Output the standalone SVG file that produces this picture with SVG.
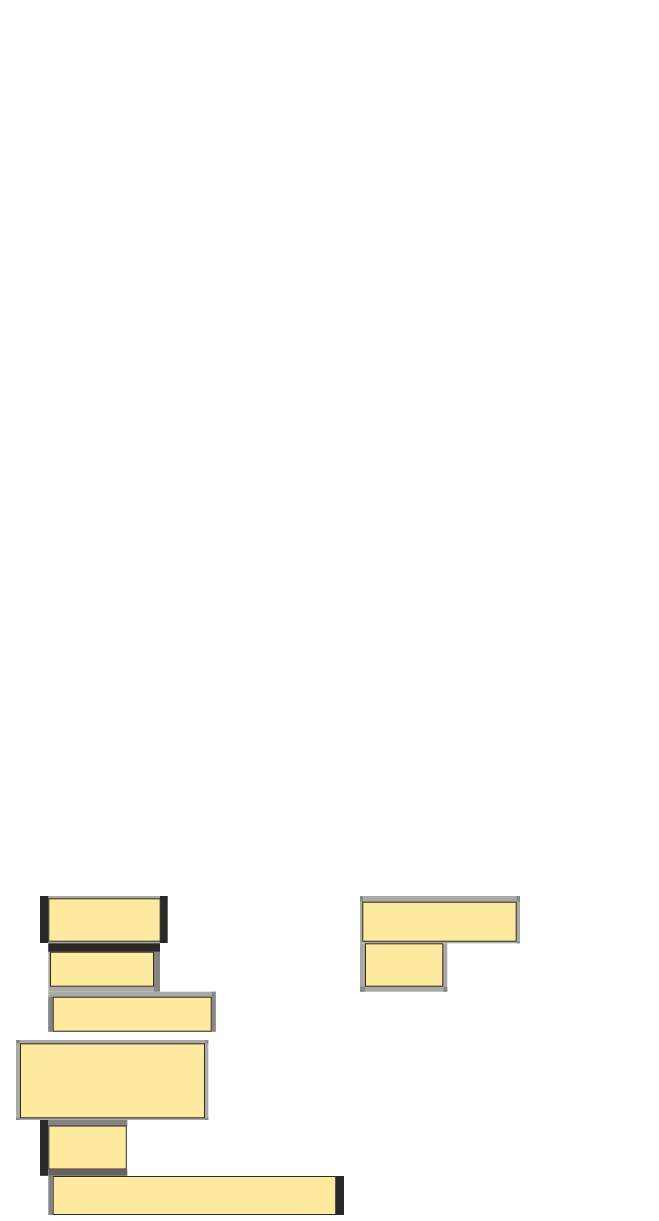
<svg xmlns="http://www.w3.org/2000/svg" width="659" height="1221" viewBox="0 0 659 1221">
<style>
.bg{fill:#ffffff}
.face{fill:#FEEA9F;stroke:#2e2b26;stroke-width:1}
.dark{fill:#2b2828}
.mid{fill:#858383}
.lite{fill:#aaa9a6}
.corner{fill:#8a8886}
</style>
<rect class="bg" x="0" y="0" width="659" height="1221"/>
<g id="connectors"></g>
<g id="node1">
<rect class="lite" x="48" y="896" width="112" height="47"/>
<rect class="dark" x="40" y="896" width="8.3" height="47"/>
<rect class="dark" x="160" y="896" width="7.7" height="47"/>
<rect class="face" x="48.8" y="898.8" width="111.4" height="42.4"/>
</g>
<g id="node2">
<rect class="lite" x="48.3" y="943.3" width="111.7" height="48.4"/>
<rect class="mid" x="154" y="951.7" width="6" height="40"/>
<rect class="dark" x="48.3" y="943.3" width="111.7" height="8.4"/>
<rect class="face" x="50.5" y="952.2" width="103" height="34"/>
</g>
<g id="node3">
<rect class="lite" x="48.3" y="991.7" width="167.4" height="40"/>
<rect class="mid" x="48.3" y="996.7" width="4.4" height="35"/>
<rect class="corner" x="211.7" y="991.7" width="4" height="40"/>
<rect class="face" x="53.2" y="997.2" width="158" height="34"/>
</g>
<g id="node4">
<rect class="lite" x="16" y="1040" width="192.3" height="80"/>
<rect class="corner" x="16" y="1040" width="4" height="3.3"/>
<rect class="corner" x="205" y="1040" width="3.3" height="3.3"/>
<rect class="corner" x="16" y="1118" width="4" height="2"/>
<rect class="corner" x="205" y="1118" width="3.3" height="2"/>
<rect class="face" x="20.5" y="1043.8" width="184" height="74"/>
</g>
<g id="node5">
<rect class="mid" x="48.3" y="1120" width="79" height="6"/>
<rect class="dark" x="40" y="1120" width="8.3" height="55.8"/>
<rect class="fill" style="fill:#656262" x="48.3" y="1169.3" width="79" height="6.5"/>
<rect class="face" x="48.8" y="1126" width="77.5" height="43"/>
</g>
<g id="node6">
<rect class="mid" x="48.3" y="1176" width="4.4" height="39"/>
<rect class="dark" x="336" y="1176" width="8" height="39"/>
<rect class="face" x="53.2" y="1176.5" width="282.5" height="38"/>
</g>
<g id="node7">
<rect class="lite" x="360" y="896" width="160" height="47.3"/>
<rect class="corner" x="360" y="896" width="3" height="5.7"/>
<rect class="corner" x="516.7" y="896" width="3.3" height="5.7"/>
<rect class="corner" x="516.7" y="941.7" width="3.3" height="1.6"/>
<rect class="face" x="362.8" y="902.2" width="153.4" height="39"/>
</g>
<g id="node8">
<rect class="lite" x="360" y="943.3" width="87.3" height="48.4"/>
<rect class="corner" x="360" y="986.7" width="5" height="5"/>
<rect class="corner" x="443.3" y="986.7" width="4" height="5"/>
<rect class="face" x="365.5" y="943.8" width="77.3" height="42.4"/>
</g>
</svg>
